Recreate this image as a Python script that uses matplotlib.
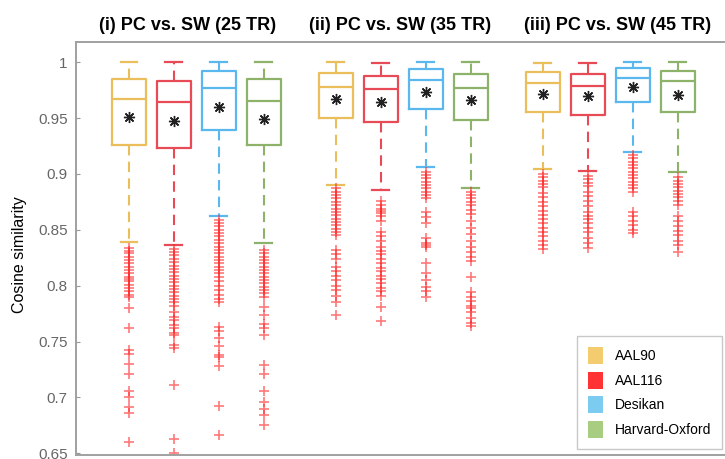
import numpy as np
import matplotlib.pyplot as plt
from matplotlib.patches import Patch
from matplotlib.ticker import FormatStrFormatter

plt.rcParams['font.family'] = ['Liberation Sans', 'DejaVu Sans']

titles = ['(i) PC vs. SW (25 TR)', '(ii) PC vs. SW (35 TR)', '(iii) PC vs. SW (45 TR)']
atlases = ['AAL90', 'AAL116', 'Desikan', 'Harvard-Oxford']

# one entry per box: 25 TR (4 atlases), 35 TR, 45 TR
whishi = [1.0, 1.0, 1.0, 1.0,
          1.0, 0.999, 1.0, 1.0,
          0.9996, 0.999, 1.0, 1.0]
q3 = [0.985, 0.983, 0.992, 0.985,
      0.990, 0.9875, 0.9935, 0.989,
      0.9908, 0.989, 0.995, 0.992]
medians = [0.967, 0.964, 0.9765, 0.9654,
           0.978, 0.9756, 0.984, 0.977,
           0.981, 0.9788, 0.9854, 0.983]
q1 = [0.926, 0.923, 0.9394, 0.926,
      0.9496, 0.9466, 0.958, 0.948,
      0.9555, 0.953, 0.9645, 0.9555]
means = [0.9505, 0.9475, 0.960, 0.9487,
         0.967, 0.9645, 0.973, 0.966,
         0.9714, 0.970, 0.978, 0.971]
whislo = [0.839, 0.836, 0.8624, 0.838,
          0.8905, 0.8852, 0.9065, 0.887,
          0.904, 0.903, 0.9197, 0.9018]

outliers = [
    # 25 TR
    [0.834, 0.831, 0.829, 0.826, 0.823, 0.820, 0.817, 0.814, 0.811, 0.808, 0.806,
     0.804, 0.801, 0.798, 0.795, 0.792, 0.790, 0.780, 0.762, 0.742, 0.739, 0.730,
     0.721, 0.706, 0.700, 0.691, 0.686, 0.660],
    [0.833, 0.830, 0.827, 0.824, 0.821, 0.818, 0.815, 0.812, 0.809, 0.806, 0.803,
     0.800, 0.797, 0.794, 0.791, 0.788, 0.785, 0.782, 0.776, 0.772, 0.769, 0.765,
     0.762, 0.758, 0.756, 0.747, 0.744, 0.711, 0.663, 0.650],
    [0.859, 0.856, 0.853, 0.850, 0.847, 0.844, 0.841, 0.838, 0.835, 0.832, 0.829,
     0.826, 0.823, 0.820, 0.817, 0.814, 0.811, 0.808, 0.804, 0.800, 0.796, 0.792,
     0.788, 0.785, 0.763, 0.759, 0.753, 0.746, 0.738, 0.736, 0.728, 0.692, 0.666],
    [0.832, 0.829, 0.826, 0.823, 0.820, 0.817, 0.814, 0.811, 0.808, 0.805, 0.802,
     0.799, 0.796, 0.793, 0.790, 0.781, 0.774, 0.766, 0.762, 0.756, 0.729, 0.721,
     0.706, 0.696, 0.690, 0.684, 0.675],
    # 35 TR
    [0.887, 0.884, 0.881, 0.878, 0.875, 0.872, 0.869, 0.866, 0.863, 0.860, 0.857,
     0.854, 0.851, 0.848, 0.845, 0.832, 0.828, 0.824, 0.817, 0.813, 0.809, 0.805,
     0.800, 0.796, 0.791, 0.785, 0.774],
    [0.876, 0.872, 0.869, 0.867, 0.865, 0.862, 0.858, 0.848, 0.844, 0.840, 0.835,
     0.831, 0.828, 0.824, 0.820, 0.816, 0.813, 0.809, 0.806, 0.802, 0.798, 0.795,
     0.791, 0.781, 0.768],
    [0.902, 0.899, 0.896, 0.893, 0.890, 0.887, 0.884, 0.881, 0.878, 0.866, 0.861,
     0.856, 0.843, 0.838, 0.836, 0.835, 0.820, 0.811, 0.805, 0.799, 0.795, 0.790],
    [0.884, 0.881, 0.878, 0.875, 0.872, 0.868, 0.864, 0.858, 0.852, 0.846, 0.840,
     0.835, 0.830, 0.826, 0.822, 0.808, 0.794, 0.790, 0.786, 0.782, 0.780, 0.776,
     0.771, 0.767, 0.764],
    # 45 TR
    [0.900, 0.897, 0.894, 0.891, 0.888, 0.883, 0.879, 0.875, 0.871, 0.867, 0.863,
     0.860, 0.856, 0.852, 0.848, 0.844, 0.840, 0.836, 0.833],
    [0.898, 0.895, 0.892, 0.889, 0.884, 0.880, 0.876, 0.871, 0.866, 0.862, 0.860,
     0.856, 0.852, 0.848, 0.843, 0.838, 0.834],
    [0.917, 0.914, 0.911, 0.908, 0.905, 0.902, 0.899, 0.896, 0.893, 0.890, 0.887,
     0.884, 0.866, 0.862, 0.858, 0.854, 0.850, 0.847],
    [0.897, 0.894, 0.891, 0.888, 0.885, 0.882, 0.879, 0.876, 0.872, 0.862, 0.858,
     0.853, 0.849, 0.845, 0.840, 0.836, 0.830],
]

line_colors = ['#EBBE5C', '#E84B55', '#5BB8EE', '#8DB36A']
patch_colors = ['#F2CC6E', '#FF3333', '#7CCBF0', '#A8CC80']

fig = plt.figure(figsize=(7.25, 4.59), dpi=100)
# axes run past the right edge of the figure
ax = fig.add_axes([76 / 725, 4 / 459, 684 / 725, 413 / 459])

positions = [g * 4.65 + i * 1.01 for g in range(3) for i in range(4)]

for k in range(12):
    c = line_colors[k % 4]
    stats = [dict(med=medians[k], q1=q1[k], q3=q3[k], whislo=whislo[k],
                  whishi=whishi[k], mean=means[k], fliers=outliers[k])]
    ax.bxp(stats, positions=[positions[k]], widths=0.76, capwidths=0.38,
           showmeans=True, manage_ticks=False,
           boxprops=dict(color=c, linewidth=1.6),
           medianprops=dict(color=c, linewidth=1.6),
           whiskerprops=dict(color=c, linewidth=1.5, linestyle=(0, (5, 3))),
           capprops=dict(color=c, linewidth=1.6),
           meanprops=dict(marker=(8, 2, 0), markeredgecolor='#222222',
                          markerfacecolor='#222222', markersize=8, markeredgewidth=1.0),
           flierprops=dict(marker='+', markeredgecolor='#FF2020', markersize=7,
                           markeredgewidth=1.2, alpha=0.6, linestyle='none'))

ax.set_xlim(-1.19, 14.18)
ax.set_ylim(0.6485, 1.018)
ax.set_xticks([])
ax.set_yticks(np.arange(0.65, 1.001, 0.05))
ax.yaxis.set_major_formatter(FormatStrFormatter('%g'))
ax.tick_params(axis='y', direction='in', length=3, labelsize=11, labelcolor='#666666',
               color='#999999', pad=6)
for s in ax.spines.values():
    s.set_color('#A0A0A0')
    s.set_linewidth(1.4)

fig.text(20 / 725, 1 - 255 / 459, 'Cosine similarity', rotation=90, fontsize=11.5,
         ha='center', va='center')

title_x = [188, 400, 618]
for t, x in zip(titles, title_x):
    fig.text(x / 725, 1 - 25 / 459, t, fontsize=13, fontweight='bold',
             ha='center', va='center')

handles = [Patch(facecolor=c, edgecolor='none') for c in patch_colors]
fig.legend(handles, atlases, loc='upper right', bbox_to_anchor=(722 / 725, 1 - 336 / 459),
           borderaxespad=0, fontsize=10, frameon=True, fancybox=False, edgecolor='#BBBBBB',
           handlelength=1.1, handleheight=1.5, handletextpad=0.8, labelspacing=0.55,
           borderpad=0.8)

fig.savefig('out.png', dpi=100)
